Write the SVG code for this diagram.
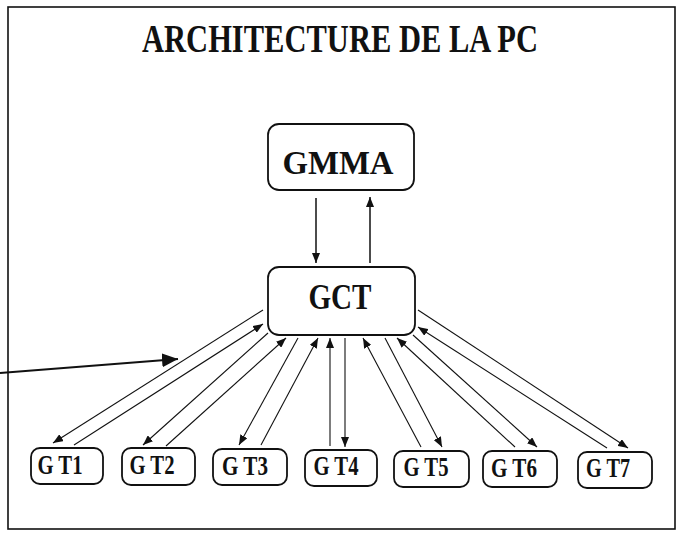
<svg xmlns="http://www.w3.org/2000/svg" width="683" height="540" viewBox="0 0 683 540">
<style>
.t{font-family:"Liberation Serif","Times New Roman",serif;font-weight:bold;fill:#111;text-anchor:middle}
.box{fill:#fff;stroke:#111;stroke-width:1.8}
.ln{stroke:#111;stroke-width:1.1;fill:none}
.lnb{stroke:#111;stroke-width:1.5;fill:none}
</style>
<defs>
<marker id="ah" markerUnits="userSpaceOnUse" markerWidth="10" markerHeight="8" refX="10" refY="4" orient="auto"><path d="M0,0 L10,4 L0,8 z" fill="#111"/></marker>
<marker id="big" markerUnits="userSpaceOnUse" markerWidth="17" markerHeight="14" refX="16" refY="7" orient="auto"><path d="M0,0 L16,7 L0,14 z" fill="#111"/></marker>
</defs>
<rect x="8" y="7" width="667" height="522" fill="#fff" stroke="#111" stroke-width="1.6"/>
<text class="t" x="340" y="52" font-size="40" textLength="396" lengthAdjust="spacingAndGlyphs">ARCHITECTURE DE LA PC</text>
<g id="connectors">
<line class="lnb" x1="316" y1="198" x2="316" y2="263" marker-end="url(#ah)"/>
<line class="lnb" x1="370" y1="263" x2="370" y2="197" marker-end="url(#ah)"/>
<line x1="0" y1="373" x2="178" y2="359" stroke="#111" stroke-width="2" marker-end="url(#big)"/>
<line class="ln" x1="263" y1="310" x2="53" y2="443" marker-end="url(#ah)"/>
<line class="ln" x1="74" y1="445" x2="263" y2="324" marker-end="url(#ah)"/>
<line class="ln" x1="268" y1="333" x2="143" y2="445" marker-end="url(#ah)"/>
<line class="ln" x1="166" y1="446" x2="286" y2="338" marker-end="url(#ah)"/>
<line class="ln" x1="298" y1="338" x2="239" y2="445" marker-end="url(#ah)"/>
<line class="ln" x1="261" y1="445" x2="318" y2="338" marker-end="url(#ah)"/>
<line class="ln" x1="330" y1="446" x2="330" y2="338" marker-end="url(#ah)"/>
<line class="ln" x1="345" y1="338" x2="345" y2="447" marker-end="url(#ah)"/>
<line class="ln" x1="421" y1="447" x2="363" y2="338" marker-end="url(#ah)"/>
<line class="ln" x1="385" y1="338" x2="442" y2="447" marker-end="url(#ah)"/>
<line class="ln" x1="515" y1="447" x2="397" y2="338" marker-end="url(#ah)"/>
<line class="ln" x1="413" y1="335" x2="537" y2="447" marker-end="url(#ah)"/>
<line class="ln" x1="607" y1="448" x2="418" y2="327" marker-end="url(#ah)"/>
<line class="ln" x1="418" y1="310" x2="628" y2="448" marker-end="url(#ah)"/>
</g>
<g id="gmma"><rect class="box" x="268" y="124" width="146" height="66" rx="11"/><text class="t" x="338" y="174" font-size="33" textLength="111" lengthAdjust="spacingAndGlyphs">GMMA</text></g>
<g id="gct"><rect class="box" x="268" y="267" width="147" height="68" rx="11"/><text class="t" x="340" y="309" font-size="36" textLength="63" lengthAdjust="spacingAndGlyphs">GCT</text></g>
<g id="gt1"><rect class="box" x="31" y="448" width="72" height="36" rx="9"/><text class="t" x="60" y="474" font-size="27" textLength="45" lengthAdjust="spacingAndGlyphs">G T1</text></g>
<g id="gt2"><rect class="box" x="122" y="448" width="73" height="37" rx="9"/><text class="t" x="152" y="474" font-size="27" textLength="45" lengthAdjust="spacingAndGlyphs">G T2</text></g>
<g id="gt3"><rect class="box" x="213" y="449" width="74" height="36" rx="9"/><text class="t" x="245" y="475" font-size="27" textLength="46" lengthAdjust="spacingAndGlyphs">G T3</text></g>
<g id="gt4"><rect class="box" x="305" y="450" width="72" height="36" rx="9"/><text class="t" x="336" y="475" font-size="27" textLength="45" lengthAdjust="spacingAndGlyphs">G T4</text></g>
<g id="gt5"><rect class="box" x="394" y="451" width="75" height="36" rx="9"/><text class="t" x="426" y="476" font-size="27" textLength="45" lengthAdjust="spacingAndGlyphs">G T5</text></g>
<g id="gt6"><rect class="box" x="483" y="451" width="74" height="36" rx="9"/><text class="t" x="514" y="477" font-size="27" textLength="46" lengthAdjust="spacingAndGlyphs">G T6</text></g>
<g id="gt7"><rect class="box" x="578" y="452" width="74" height="36" rx="9"/><text class="t" x="608" y="477" font-size="27" textLength="44" lengthAdjust="spacingAndGlyphs">G T7</text></g>
</svg>
